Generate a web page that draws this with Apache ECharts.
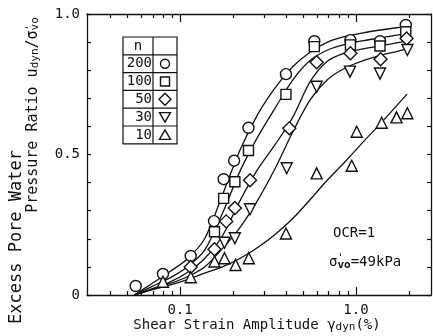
<!DOCTYPE html>
<html>
<head>
<meta charset="utf-8">
<script src="https://cdn.jsdelivr.net/npm/echarts@6/dist/echarts.min.js"></script>
<style>
  html, body { margin: 0; padding: 0; background: #fff; }
  #chart { width: 433px; height: 336px; }
</style>
</head>
<body>
<div id="chart"></div>
<script>
// fitted curves, sampled along strain (about evenly in log)
const curveX = [0.055, 0.069, 0.087, 0.11, 0.138, 0.174, 0.219, 0.275, 0.347, 0.437, 0.55, 0.69, 0.87, 1.1, 1.38, 1.74, 1.95];
const curve200 = [0, 0.04, 0.082, 0.128, 0.2, 0.355, 0.515, 0.64, 0.737, 0.812, 0.865, 0.9, 0.92, 0.933, 0.943, 0.952, 0.957];
const curve100 = [0, 0.03, 0.06, 0.1, 0.16, 0.29, 0.44, 0.56, 0.665, 0.765, 0.835, 0.872, 0.892, 0.905, 0.915, 0.926, 0.932];
const curve50 = [0, 0.022, 0.045, 0.08, 0.13, 0.21, 0.335, 0.445, 0.535, 0.632, 0.76, 0.833, 0.862, 0.876, 0.887, 0.898, 0.905];
const curve30 = [0, 0.02, 0.04, 0.065, 0.1, 0.165, 0.24, 0.335, 0.45, 0.58, 0.695, 0.767, 0.808, 0.834, 0.853, 0.868, 0.876];
const curve10 = [0, 0.018, 0.035, 0.055, 0.078, 0.1, 0.13, 0.168, 0.215, 0.272, 0.34, 0.41, 0.475, 0.545, 0.61, 0.68, 0.715];

// measured points [strain %, ratio]
const pts200 = [[0.056, 0.032], [0.08, 0.075], [0.115, 0.139], [0.156, 0.263], [0.177, 0.412], [0.203, 0.478], [0.245, 0.595], [0.40, 0.786], [0.58, 0.903], [0.93, 0.907], [1.37, 0.903], [1.92, 0.961]];
const pts100 = [[0.157, 0.225], [0.177, 0.344], [0.205, 0.403], [0.245, 0.514], [0.40, 0.714], [0.58, 0.884], [0.93, 0.89], [1.37, 0.886], [1.92, 0.937]];
const pts50 = [[0.115, 0.10], [0.157, 0.163], [0.183, 0.262], [0.205, 0.31], [0.25, 0.408], [0.418, 0.593], [0.598, 0.828], [0.93, 0.86], [1.38, 0.839], [1.94, 0.913]];
const pts30 = [[0.179, 0.186], [0.205, 0.202], [0.25, 0.305], [0.404, 0.451], [0.598, 0.741], [0.925, 0.795], [1.37, 0.788], [1.96, 0.872]];
const pts10 = [[0.08, 0.047], [0.115, 0.063], [0.157, 0.119], [0.179, 0.131], [0.207, 0.107], [0.246, 0.131], [0.40, 0.219], [0.598, 0.433], [0.946, 0.46], [1.01, 0.581], [1.40, 0.613], [1.70, 0.632], [1.96, 0.647]];

const legendN = ['200', '100', '50', '30', '10'];
const xMajor = [0.1, 1];
const xMinor = [0.04, 0.05, 0.06, 0.07, 0.08, 0.09, 0.2, 0.3, 0.4, 0.5, 0.6, 0.7, 0.8, 0.9, 2];
const yLabels = [0, 0.5, 1];

const FONT = 'DejaVu Sans Mono';
const X_MIN = 0.0296, X_MAX = 2.67;

const myChart = echarts.init(document.getElementById('chart'));

const zip = (xs, ys) => xs.map((x, i) => [x, ys[i]]);

const lineSeries = (data) => ({
    type: 'line',
    data: data,
    smooth: 0.3,
    showSymbol: false,
    silent: true,
    z: 2,
    lineStyle: { color: '#111', width: 1.3 }
});

const dotSeries = (data, symbol, rotate, size) => ({
    type: 'scatter',
    data: data,
    symbol: symbol,
    symbolRotate: rotate || 0,
    symbolSize: size,
    z: 5,
    itemStyle: { color: '#fff', borderColor: '#111', borderWidth: 1.4, opacity: 1 }
});

const logAxis = (pos, ticks, len, showLine, showLabel) => ({
    type: 'log',
    position: pos,
    min: X_MIN,
    max: X_MAX,
    logBase: 10,
    axisLine: { show: showLine, onZero: false, lineStyle: { color: '#111', width: 1.3 } },
    axisTick: { show: true, inside: true, length: len, customValues: ticks, lineStyle: { color: '#111', width: 1.2 } },
    axisLabel: {
        show: showLabel,
        customValues: xMajor,
        margin: 8,
        color: '#111',
        fontFamily: FONT,
        fontSize: 14,
        formatter: (v) => (v >= 1 ? v.toFixed(1) : String(v))
    },
    splitLine: { show: false },
    minorTick: { show: false }
});

const valAxis = (pos, showLabel) => ({
    type: 'value',
    position: pos,
    min: 0,
    max: 1,
    interval: 0.1,
    axisLine: { show: true, lineStyle: { color: '#111', width: 1.3 } },
    axisTick: { show: true, inside: true, length: 4, lineStyle: { color: '#111', width: 1.2 } },
    axisLabel: {
        show: showLabel,
        customValues: yLabels,
        margin: 7,
        color: '#111',
        fontFamily: FONT,
        fontSize: 14,
        formatter: (v) => (v === 0 ? '0' : v.toFixed(1))
    },
    splitLine: { show: false }
});

// legend table, drawn as graphic
const tbl = { x: 123, y: 37, w: 54, col: 30, rowH: 17.8 };
const legendEls = [];
const rows = legendN.length + 1;
legendEls.push({
    type: 'rect',
    shape: { x: tbl.x, y: tbl.y, width: tbl.w, height: tbl.rowH * rows },
    style: { fill: '#fff', stroke: '#111', lineWidth: 1.2 }
});
legendEls.push({
    type: 'line',
    shape: { x1: tbl.x + tbl.col, y1: tbl.y, x2: tbl.x + tbl.col, y2: tbl.y + tbl.rowH * rows },
    style: { stroke: '#111', lineWidth: 1.2 }
});
for (let i = 1; i < rows; i++) {
    legendEls.push({
        type: 'line',
        shape: { x1: tbl.x, y1: tbl.y + tbl.rowH * i, x2: tbl.x + tbl.w, y2: tbl.y + tbl.rowH * i },
        style: { stroke: '#111', lineWidth: 1.2 }
    });
}
legendEls.push({
    type: 'text', x: tbl.x + tbl.col / 2, y: tbl.y + tbl.rowH / 2,
    style: { text: 'n', font: '14px ' + FONT, fill: '#111', align: 'center', verticalAlign: 'middle' }
});
legendN.forEach((n, i) => {
    legendEls.push({
        type: 'text', x: tbl.x + tbl.col - 1, y: tbl.y + tbl.rowH * (i + 1.5),
        style: { text: n, font: '14px ' + FONT, fill: '#111', align: 'right', verticalAlign: 'middle' }
    });
});
const sx = tbl.x + tbl.col + (tbl.w - tbl.col) / 2;
const sy = (i) => tbl.y + tbl.rowH * (i + 1.5);
const symStyle = { fill: '#fff', stroke: '#111', lineWidth: 1.4 };
legendEls.push({ type: 'circle', shape: { cx: sx, cy: sy(0), r: 4.5 }, style: symStyle });
legendEls.push({ type: 'rect', shape: { x: sx - 4.5, y: sy(1) - 4.5, width: 9, height: 9 }, style: symStyle });
legendEls.push({ type: 'polygon', shape: { points: [[sx, sy(2) - 6], [sx + 6, sy(2)], [sx, sy(2) + 6], [sx - 6, sy(2)]] }, style: symStyle });
legendEls.push({ type: 'polygon', shape: { points: [[sx - 5.5, sy(3) - 4.5], [sx + 5.5, sy(3) - 4.5], [sx, sy(3) + 5]] }, style: symStyle });
legendEls.push({ type: 'polygon', shape: { points: [[sx - 5.5, sy(4) + 4.5], [sx + 5.5, sy(4) + 4.5], [sx, sy(4) - 5]] }, style: symStyle });

const option = {
    animation: false,
    backgroundColor: '#fff',
    grid: { left: 87, right: 2, top: 14, bottom: 41, containLabel: false },
    xAxis: [
        logAxis('bottom', xMajor, 8, true, true),
        logAxis('bottom', xMinor, 4, false, false),
        logAxis('top', xMajor, 8, true, false),
        logAxis('top', xMinor, 4, false, false)
    ],
    yAxis: [valAxis('left', true), valAxis('right', false)],
    series: [
        lineSeries(zip(curveX, curve200)),
        lineSeries(zip(curveX, curve100)),
        lineSeries(zip(curveX, curve50)),
        lineSeries(zip(curveX, curve30)),
        lineSeries(zip(curveX, curve10)),
        dotSeries(pts200, 'circle', 0, 11),
        dotSeries(pts100, 'rect', 0, 10),
        dotSeries(pts50, 'diamond', 0, 13),
        dotSeries(pts30, 'triangle', 180, 11),
        dotSeries(pts10, 'triangle', 0, 11)
    ],
    graphic: [
        { type: 'group', z: 10, children: legendEls },
        {
            type: 'text', x: 333, y: 233, z: 10,
            style: { text: 'OCR=1', font: '14px ' + FONT, fill: '#111', verticalAlign: 'middle' }
        },
        {
            type: 'text', x: 329, y: 262, z: 10,
            style: {
                text: "σ{sup|'}{sub|vo}=49kPa",
                font: '14px ' + FONT, fill: '#111', verticalAlign: 'middle',
                rich: {
                    sup: { fontFamily: FONT, fontSize: 10, fill: '#111', verticalAlign: 'top', padding: [0, -6, 6, 0] },
                    sub: { fontFamily: FONT, fontSize: 11, fill: '#111', fontWeight: 'bold', padding: [6, 0, 0, 0] }
                }
            }
        },
        {
            type: 'text', x: 257, y: 325, z: 10,
            style: {
                text: 'Shear Strain Amplitude γ{sub|dyn}(%)',
                font: '14px ' + FONT, fill: '#111', align: 'center', verticalAlign: 'middle',
                rich: { sub: { fontFamily: FONT, fontSize: 11, fill: '#111', padding: [5, 0, 0, 0] } }
            }
        },
        {
            type: 'text', x: 17, y: 237, rotation: Math.PI / 2, z: 10,
            style: { text: 'Excess Pore Water', font: '17px ' + FONT, fill: '#111', align: 'center', verticalAlign: 'middle' }
        },
        {
            type: 'text', x: 33, y: 115, rotation: Math.PI / 2, z: 10,
            style: {
                text: "Pressure Ratio u{sub|dyn}/σ{sup|'}{sub|vo}",
                font: '15px ' + FONT, fill: '#111', align: 'center', verticalAlign: 'middle',
                rich: {
                    sup: { fontFamily: FONT, fontSize: 10, fill: '#111', padding: [0, -6, 6, 0] },
                    sub: { fontFamily: FONT, fontSize: 11, fill: '#111', padding: [5, 0, 0, 0] }
                }
            }
        }
    ]
};
myChart.setOption(option);
</script>
</body>
</html>
